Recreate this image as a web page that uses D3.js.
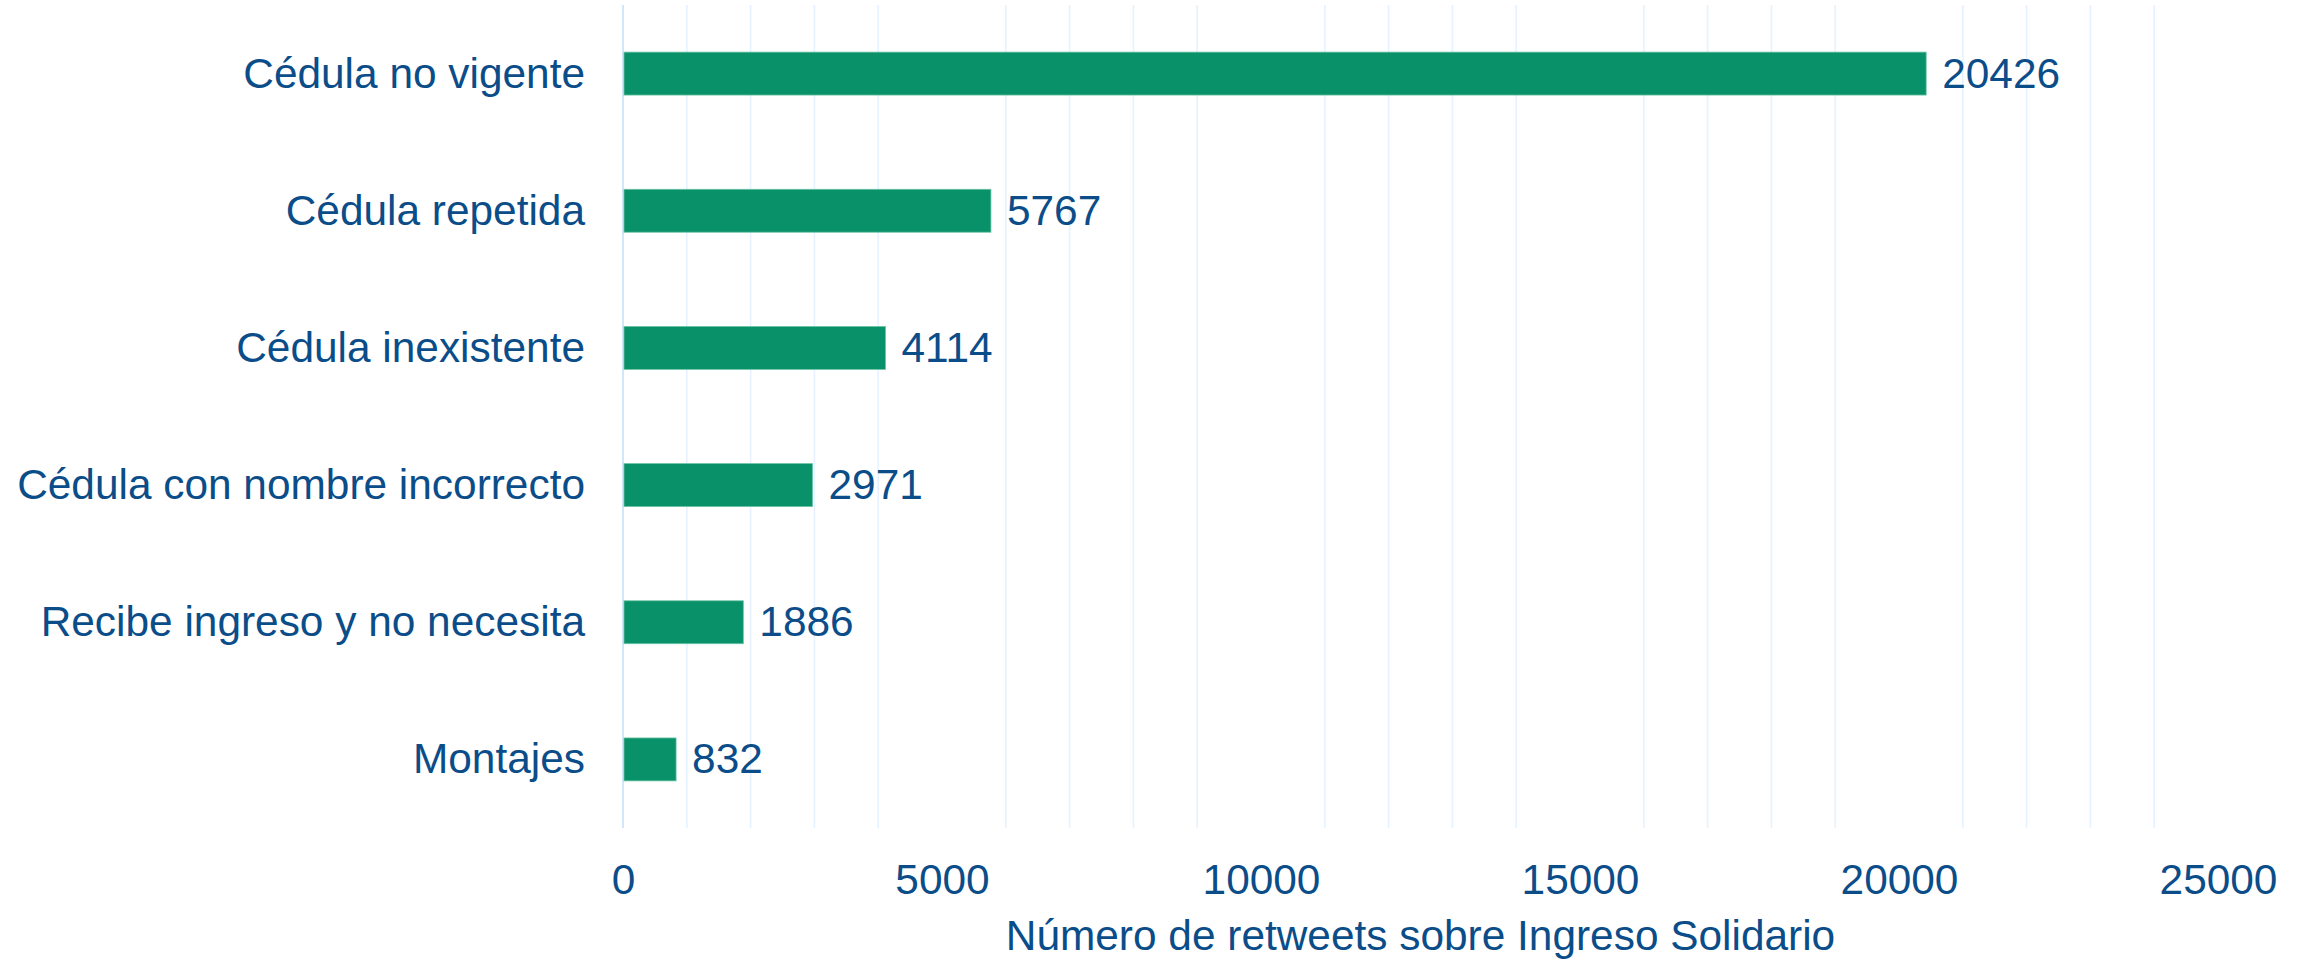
<!DOCTYPE html>
<html>
<head>
<meta charset="utf-8">
<script src="https://cdn.jsdelivr.net/npm/d3@7"></script>
<style>
  html, body { margin: 0; padding: 0; background: #fff; }
  svg text { font-family: "Liberation Sans", Arial, sans-serif; fill: #0b4d89; }
</style>
</head>
<body>
<div id="chart"></div>
<script>
// categories top to bottom, with their counts
const categories = [
  'Cédula no vigente',
  'Cédula repetida',
  'Cédula inexistente',
  'Cédula con nombre incorrecto',
  'Recibe ingreso y no necesita',
  'Montajes'
];
const values = [20426, 5767, 4114, 2971, 1886, 832];
const majorTicks = [0, 5000, 10000, 15000, 20000, 25000];
const axisTitle = 'Número de retweets sobre Ingreso Solidario';

const width = 2310, height = 960;
const margin = { top: 5, right: 92, bottom: 132, left: 623 };
const fontSize = '42.4px';

const svg = d3.select('#chart').append('svg')
  .attr('width', width)
  .attr('height', height);

const x = d3.scaleLinear()
  .domain([0, 25000])
  .range([margin.left, width - margin.right]);

const y = d3.scaleBand()
  .domain(categories)
  .range([margin.top, height - margin.bottom])
  .paddingInner(0.687)
  .paddingOuter(0.3435);

// light gridlines every 1000, skipping the labelled ticks
const minor = d3.range(1000, 25000, 1000).filter(v => v % 5000 !== 0);
svg.append('g')
  .selectAll('line')
  .data(minor)
  .join('line')
    .attr('x1', d => x(d)).attr('x2', d => x(d))
    .attr('y1', margin.top).attr('y2', height - margin.bottom)
    .attr('stroke', '#e6f2ff')
    .attr('stroke-width', 1.6);

// zero line
svg.append('line')
  .attr('x1', x(0)).attr('x2', x(0))
  .attr('y1', margin.top).attr('y2', height - margin.bottom)
  .attr('stroke', '#d3e6fb')
  .attr('stroke-width', 2);

const rows = categories.map((c, i) => ({ key: c, value: values[i] }));

svg.append('g')
  .selectAll('rect')
  .data(rows)
  .join('rect')
    .attr('x', x(0) + 1)
    .attr('y', d => y(d.key))
    .attr('width', d => x(d.value) - x(0) - 1)
    .attr('height', y.bandwidth())
    .attr('fill', '#099169')
    .attr('stroke', '#6cc4a4')
    .attr('stroke-width', 0.8);

// value labels
svg.append('g')
  .selectAll('text')
  .data(rows)
  .join('text')
    .attr('x', d => x(d.value) + 16)
    .attr('y', d => y(d.key) + y.bandwidth() / 2)
    .attr('dy', '0.33em')
    .style('font-size', fontSize)
    .text(d => d.value);

// category labels
const yAxis = svg.append('g')
  .attr('transform', `translate(${x(0)},0)`)
  .call(d3.axisLeft(y).tickSize(0).tickPadding(38));
yAxis.select('.domain').remove();
yAxis.selectAll('text')
  .attr('dy', '0.33em')
  .style('font-size', fontSize)
  .style('font-family', '"Liberation Sans", Arial, sans-serif')
  .attr('fill', '#0b4d89');

// x axis tick labels
const xAxis = svg.append('g')
  .attr('transform', `translate(0,${height - margin.bottom})`)
  .call(d3.axisBottom(x).tickValues(majorTicks).tickSize(0).tickPadding(36).tickFormat(d3.format('d')));
xAxis.select('.domain').remove();
xAxis.selectAll('text')
  .style('font-size', fontSize)
  .style('font-family', '"Liberation Sans", Arial, sans-serif')
  .attr('fill', '#0b4d89');

svg.append('text')
  .attr('x', (x(0) + x(25000)) / 2)
  .attr('y', 950)
  .attr('text-anchor', 'middle')
  .style('font-size', fontSize)
  .text(axisTitle);
</script>
</body>
</html>
